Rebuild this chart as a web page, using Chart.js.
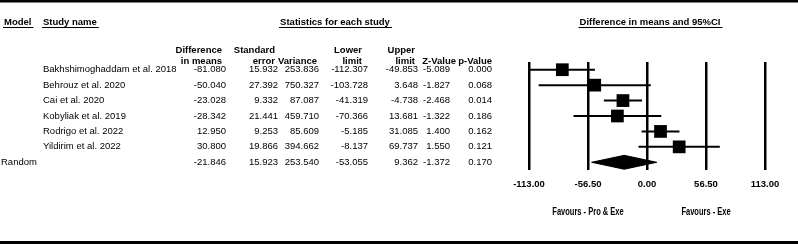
<!DOCTYPE html>
<html>
<head>
<meta charset="utf-8">
<script src="https://cdn.jsdelivr.net/npm/chart.js@4/dist/chart.umd.min.js"></script>
<style>
  html, body { margin: 0; padding: 0; background: #fff; }
</style>
</head>
<body>
<canvas id="forest" width="798" height="244"></canvas>
<script>
// study rows
const studies = ['Bakhshimoghaddam et al. 2018', 'Behrouz et al. 2020', 'Cai et al. 2020', 'Kobyliak et al. 2019', 'Rodrigo et al. 2022', 'Yildirim et al. 2022'];
const diffMeans = [-81.080, -50.040, -23.028, -28.342, 12.950, 30.800];
const stdErr = [15.932, 27.392, 9.332, 21.441, 9.253, 19.866];
const variance = [253.836, 750.327, 87.087, 459.710, 85.609, 394.662];
const lowerLimit = [-112.307, -103.728, -41.319, -70.366, -5.185, -8.137];
const upperLimit = [-49.853, 3.648, -4.738, 13.681, 31.085, 69.737];
const zValue = [-5.089, -1.827, -2.468, -1.322, 1.400, 1.550];
const pValue = [0.000, 0.068, 0.014, 0.186, 0.162, 0.121];

// pooled (random effects) row: diff, se, variance, lower, upper, z, p
const pooledLabel = 'Random';
const pooled = [-21.846, 15.923, 253.540, -53.055, 9.362, -1.372, 0.170];

const xTicks = [-113, -56.5, 0, 56.5, 113];
const colHead1 = ['Difference', 'Standard', '', 'Lower', 'Upper', '', ''];
const colHead2 = ['in means', 'error', 'Variance', 'limit', 'limit', 'Z-Value', 'p-Value'];
const favours = ['Favours - Pro & Exe', 'Favours - Exe'];

// layout bits (pixels)
const valueRight = [226, 278, 319, 368, 418, 450, 492];
const headRight = [222, 275, 317, 362, 415, 456, 492];
const FONT = '"Liberation Sans", Arial, sans-serif';

const pooledRow = studies.length;
const statCols = [diffMeans, stdErr, variance, lowerLimit, upperLimit, zValue, pValue];

function underlined(ctx, text, x, y, align) {
  ctx.textAlign = align;
  ctx.fillText(text, x, y);
  const w = ctx.measureText(text).width;
  const x0 = align === 'center' ? x - w / 2 : x;
  ctx.fillRect(x0 - 1, y + 5, w + 3, 1);
}

const frame = {
  id: 'frame',
  beforeDraw(chart) {
    const ctx = chart.ctx;
    ctx.save();
    ctx.fillStyle = '#000';
    ctx.fillRect(0, 0, chart.width, 2.5);
    ctx.fillRect(0, chart.height - 3, chart.width, 3);
    ctx.restore();
  }
};

const tableText = {
  id: 'tableText',
  afterDraw(chart) {
    const ctx = chart.ctx;
    const xs = chart.scales.x, ys = chart.scales.y;
    ctx.save();
    ctx.fillStyle = '#000';
    ctx.textBaseline = 'middle';

    // top header line
    ctx.font = 'bold 9.5px ' + FONT;
    underlined(ctx, 'Model', 4, 22, 'left');
    underlined(ctx, 'Study name', 43, 22, 'left');
    underlined(ctx, 'Statistics for each study', 335, 22, 'center');
    underlined(ctx, 'Difference in means and 95%CI', 650, 22, 'center');

    // column headers
    ctx.textAlign = 'right';
    colHead1.forEach((t, c) => { if (t) ctx.fillText(t, headRight[c], 50); });
    colHead2.forEach((t, c) => ctx.fillText(t, headRight[c], 61));

    // study rows
    ctx.font = '9.5px ' + FONT;
    studies.forEach((name, i) => {
      const py = ys.getPixelForValue(i);
      ctx.textAlign = 'left';
      ctx.fillText(name, 43, py);
      ctx.textAlign = 'right';
      statCols.forEach((col, c) => ctx.fillText(col[i].toFixed(3), valueRight[c], py));
    });

    // pooled row
    const py = ys.getPixelForValue(pooledRow);
    ctx.textAlign = 'left';
    ctx.fillText(pooledLabel, 1, py);
    ctx.textAlign = 'right';
    pooled.forEach((v, c) => ctx.fillText(v.toFixed(3), valueRight[c], py));

    // favours labels under the axis (narrow, squeezed)
    ctx.font = 'bold 10px ' + FONT;
    ctx.textAlign = 'center';
    [xTicks[1], xTicks[3]].forEach((v, k) => {
      const w = ctx.measureText(favours[k]).width * 0.75;
      ctx.fillText(favours[k], xs.getPixelForValue(v), 212, w);
    });
    ctx.restore();
  }
};

// confidence interval lines, one dataset per study
const ciSets = studies.map((s, i) => ({
  type: 'scatter',
  label: s,
  data: [{ x: lowerLimit[i], y: i }, { x: upperLimit[i], y: i }],
  showLine: true,
  borderColor: '#000',
  borderWidth: 2,
  pointRadius: 0
}));

const pointSet = {
  type: 'scatter',
  label: 'Difference in means',
  data: diffMeans.map((d, i) => ({ x: d, y: i })),
  pointStyle: 'rect',
  pointRadius: 9,
  backgroundColor: '#000',
  borderWidth: 0
};

const half = 0.45;
const diamondSet = {
  type: 'scatter',
  label: pooledLabel,
  data: [
    { x: pooled[3], y: pooledRow },
    { x: pooled[0], y: pooledRow - half },
    { x: pooled[4], y: pooledRow },
    { x: pooled[0], y: pooledRow + half },
    { x: pooled[3], y: pooledRow }
  ],
  showLine: true,
  fill: 'shape',
  backgroundColor: '#000',
  borderColor: '#000',
  borderWidth: 1,
  pointRadius: 0,
  tension: 0
};

const ctx = document.getElementById('forest').getContext('2d');
new Chart(ctx, {
  type: 'scatter',
  data: { datasets: [...ciSets, pointSet, diamondSet] },
  options: {
    responsive: false,
    animation: false,
    layout: { padding: { left: 529, right: 33, top: 62, bottom: 44 } },
    plugins: { legend: { display: false }, tooltip: { enabled: false } },
    scales: {
      x: {
        type: 'linear',
        min: xTicks[0],
        max: xTicks[xTicks.length - 1],
        afterBuildTicks: scale => { scale.ticks = xTicks.map(v => ({ value: v })); },
        afterFit: scale => { scale.height = 30; },
        grid: { color: '#000', lineWidth: 2.5, drawTicks: false },
        border: { display: false },
        ticks: {
          padding: 9,
          color: '#000',
          font: { family: FONT, size: 9.5, weight: 'bold' },
          callback: v => v.toFixed(2)
        }
      },
      y: {
        type: 'linear',
        reverse: true,
        min: -0.5,
        max: pooledRow + 0.5,
        display: false
      }
    }
  },
  plugins: [frame, tableText]
});
</script>
</body>
</html>
